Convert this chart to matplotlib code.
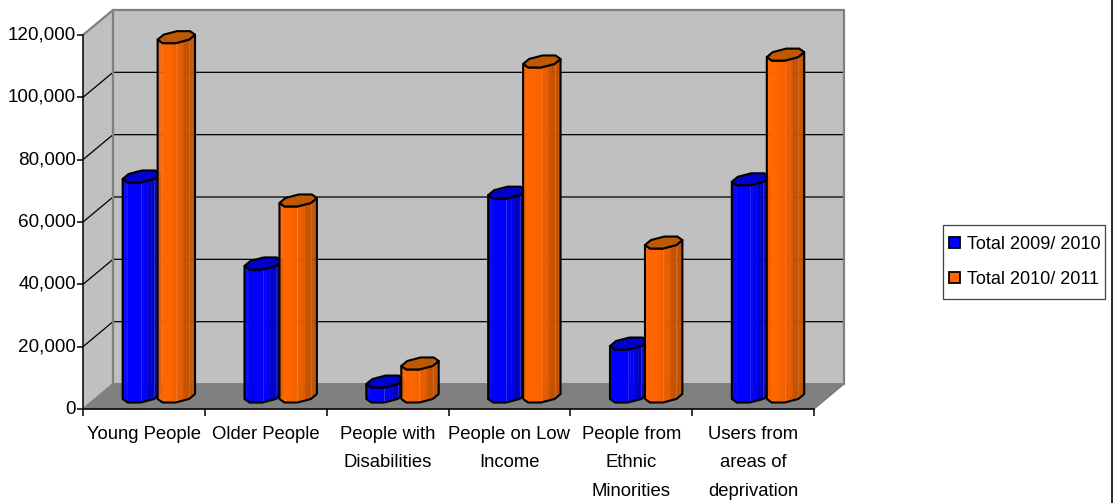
import numpy as np
import matplotlib
matplotlib.use("Agg")
import matplotlib.pyplot as plt
from matplotlib.colors import to_rgb
from matplotlib.patches import Patch, Polygon, Rectangle
from matplotlib.transforms import ScaledTranslation

categories = ["Young People", "Older People", "People with\nDisabilities",
              "People on Low\nIncome", "People from\nEthnic\nMinorities",
              "Users from\nareas of\ndeprivation"]
total_2009 = [70600, 42700, 4800, 65400, 17000, 69700]
total_2010 = [115300, 62900, 10600, 107500, 49400, 109700]
yticks = [0, 20000, 40000, 60000, 80000, 100000, 120000]

W, H = 1116, 503
DEPTH_X = 0.2462    # shift of the back wall, category units
DEPTH_Y = 8021      # shift of the back wall, value units

# shading across a column: bright, mid, dark, then the lid
BLUE = ["#0000ff", "#0000ee", "#0000c4", "#0000cc"]
ORANGE = ["#ff6600", "#e05a00", "#c65200", "#c05800"]
SHADE_STOPS = [0.0, 0.3, 0.7, 0.72, 1.0]


def project(x, y, d):
    return x + d * DEPTH_X, y + d * DEPTH_Y


def poly(ax, pts, **kw):
    ax.add_patch(Polygon(pts, closed=True, clip_on=False, **kw))


def shade(colors, f):
    bright, mid, dark = (np.array(to_rgb(c)) for c in colors[:3])
    ramp = [bright, bright, mid, dark, dark]
    return tuple(np.interp(f, SHADE_STOPS, [r[k] for r in ramp]) for k in range(3))


def column(ax, cx, value, colors, z):
    # eight sided prism, sheared like the rest of the box
    ang = np.radians(22.5 + 45 * np.arange(8))
    k = 1 / np.cos(np.radians(22.5))
    u = 0.129 * k * np.cos(ang)
    v = 0.24 * k * np.sin(ang)
    bx, by = project(cx + u, 0, 0.5 + v)
    tx, ty = project(cx + u, value, 0.5 + v)

    # walk round the front from the leftmost to the rightmost corner
    i = int(np.argmin(bx))
    j = int(np.argmax(bx))
    walk = [(i + n) % 8 for n in range(((j - i) % 8) + 1)]
    span = bx[j] - bx[i]

    for n in range(len(walk) - 1):
        a, b = walk[n], walk[n + 1]
        # strips give the soft change of colour across a face
        for s in np.linspace(0, 1, 6)[:-1]:
            e = s + 0.2
            x0 = bx[a] + s * (bx[b] - bx[a])
            x1 = bx[a] + e * (bx[b] - bx[a])
            y0 = by[a] + s * (by[b] - by[a])
            y1 = by[a] + e * (by[b] - by[a])
            col = shade(colors, ((x0 + x1) / 2 - bx[i]) / span)
            poly(ax, [(x0, y0), (x1, y1), (x1, y1 + value), (x0, y0 + value)],
                 facecolor=col, edgecolor=col, lw=0.3, zorder=z)
        if n > 1:
            ax.plot([bx[a], tx[a]], [by[a], ty[a]], color="white", alpha=0.15,
                    lw=0.7, clip_on=False, zorder=z + 0.1)

    outline = [(bx[a], by[a]) for a in walk] + [(tx[a], ty[a]) for a in walk[::-1]]
    poly(ax, outline, fill=False, edgecolor="black", lw=1.5, joinstyle="round", zorder=z + 0.2)
    poly(ax, list(zip(tx, ty)), facecolor=colors[3], edgecolor="black", lw=1.5,
         joinstyle="round", zorder=z + 0.3)


plt.rcParams["font.family"] = ["Liberation Sans"]
fig = plt.figure(figsize=(W / 100, H / 100), dpi=100)
ax = fig.add_axes([83 / W, (H - 409) / H, 731 / W, 374 / H])
ax.set_xlim(0, 6)
ax.set_ylim(0, 120000)
ax.patch.set_visible(False)
for s in ["top", "right"]:
    ax.spines[s].set_visible(False)
for s in ["left", "bottom"]:
    ax.spines[s].set_linewidth(1.1)
    ax.spines[s].set_zorder(20)

# box: floor, side wall and back wall
corners = [project(0, 0, 0), project(6, 0, 0), project(6, 0, 1), project(0, 0, 1)]
poly(ax, corners, facecolor="#808080", edgecolor="#707070", lw=0.8, zorder=1)
poly(ax, [project(0, 0, 0), project(0, 0, 1), project(0, 120000, 1), project(0, 120000, 0)],
     facecolor="#c0c0c0", edgecolor="none", zorder=1)
poly(ax, [project(0, 0, 1), project(6, 0, 1), project(6, 120000, 1), project(0, 120000, 1)],
     facecolor="#c0c0c0", edgecolor="none", zorder=1)

for val in yticks[1:-1]:
    xs, ys = zip(project(0, val, 0), project(0, val, 1), project(6, val, 1))
    ax.plot(xs, ys, color="black", lw=0.9, clip_on=False, zorder=2)

xs, ys = zip(project(0, 120000, 0), project(0, 120000, 1), project(6, 120000, 1), project(6, 0, 1))
ax.plot(xs, ys, color="#808080", lw=1.6, clip_on=False, zorder=3)
xs, ys = zip(project(0, 0, 0), project(0, 0, 1), project(6, 0, 1))
ax.plot(xs, ys, color="#808080", lw=1.4, clip_on=False, zorder=3)
xs, ys = zip(project(0, 0, 1), project(0, 120000, 1))
ax.plot(xs, ys, color="#808080", lw=1.6, clip_on=False, zorder=3)

for i in range(len(categories)):
    column(ax, i + 0.5 - 0.144, total_2009[i], BLUE, 4 + i)
    column(ax, i + 0.5 + 0.143, total_2010[i], ORANGE, 4.5 + i)

ax.set_yticks(yticks)
ax.set_yticklabels([f"{t:,}" for t in yticks], fontsize=13.6)
ax.set_xticks(range(7))
ax.set_xticklabels([])
ax.set_xticks(np.arange(6) + 0.5, minor=True)
ax.set_xticklabels(categories, minor=True, fontsize=13.3, linespacing=1.88)
ax.tick_params(axis="x", which="minor", length=0, pad=12)
ax.tick_params(axis="x", which="major", length=5, width=1.1)
ax.tick_params(axis="y", length=4, width=1.1, pad=1)

# number labels sit a little above their ticks
nudge = ScaledTranslation(0, 2 / 100, fig.dpi_scale_trans)
for lab in ax.get_yticklabels():
    lab.set_transform(lab.get_transform() + nudge)

# legend frame is sized by hand, the rows are wider apart than the text needs
fig.add_artist(Rectangle((943 / W, (H - 299) / H), 162 / W, 74 / H, transform=fig.transFigure,
                         facecolor="white", edgecolor="#404040", lw=0.9))
handles = [Patch(facecolor="#0000ff", edgecolor="black", lw=1.3, label="Total 2009/ 2010"),
           Patch(facecolor="#ff6600", edgecolor="black", lw=1.3, label="Total 2010/ 2011")]
fig.legend(handles=handles, loc="upper left", bbox_to_anchor=(949 / W, (H - 236) / H),
           fontsize=13, frameon=False, handlelength=0.6, handleheight=0.6, handletextpad=0.39,
           borderpad=0, labelspacing=1.0, borderaxespad=0)

# chart area border on the right
fig.add_artist(plt.Line2D([1111.7 / W, 1111.7 / W], [0, 1], color="black", lw=1.2))

fig.savefig("out.png", dpi=100)
